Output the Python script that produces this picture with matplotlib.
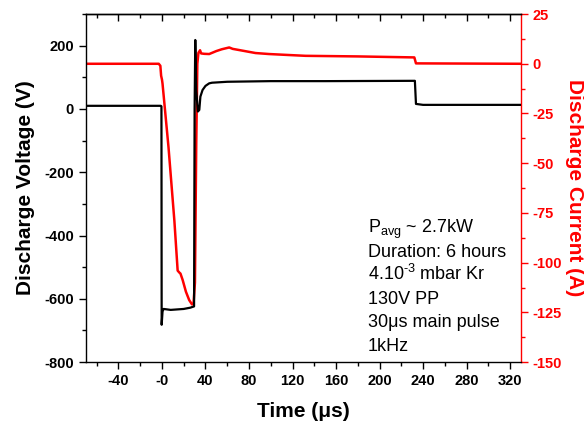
import matplotlib
matplotlib.use('Agg')
import matplotlib.pyplot as plt
from matplotlib.ticker import MultipleLocator

plt.rcParams['font.family'] = ['Liberation Sans', 'DejaVu Sans']
plt.rcParams['mathtext.fontset'] = 'custom'
plt.rcParams['mathtext.rm'] = 'Liberation Sans'
plt.rcParams['mathtext.it'] = 'Liberation Sans:italic'
plt.rcParams['mathtext.bf'] = 'Liberation Sans:bold'
plt.rcParams['axes.unicode_minus'] = False

# discharge voltage trace (black)
time_v = [-70, -1, -0.5, -0.3, 0.5, 1.5, 8, 20, 26, 29.5, 30.0, 30.6, 31.5, 33.0,
          34.3, 35.3, 37.3, 40, 43.4, 46, 60, 100, 150, 232.5, 233.5, 240, 330]
volt = [10, 10, 8, -682, -640, -632, -635, -632, -628, -624, 0, 218, 60, -8,
        -3, 39, 60, 73, 81, 83, 86, 88, 88, 89, 16, 13, 13]

# discharge current trace (red)
time_i = [-70, -3, -1.5, -0.8, 0, 0.5, 6, 11.4, 14.4, 16, 17, 19, 22, 25, 27.6,
          29, 30.3, 31.5, 32.5, 33.5, 35, 36, 39, 43.4, 50, 55, 61.8, 65, 74,
          86, 98.4, 116.8, 132, 180, 232, 233.5, 330]
curr = [0, 0, -1, -6, -8, -10, -42, -79, -104, -105, -105.5, -108.7, -114.6,
        -118.8, -121, -120.5, -110, -40, 0, 5.5, 6.8, 5.2, 5.0, 4.9, 6.4, 7.3,
        8.2, 7.5, 6.6, 5.4, 4.9, 4.4, 4.0, 3.7, 3.2, 0.2, 0]

x_ticks = [-40, 0, 40, 80, 120, 160, 200, 240, 280, 320]
x_tick_labels = ['-40', '-0', '40', '80', '120', '160', '200', '240', '280', '320']
v_ticks = [-800, -600, -400, -200, 0, 200]
i_ticks = [-150, -125, -100, -75, -50, -25, 0, 25]

info_lines = [r'P$_{\mathrm{avg}}$ ~ 2.7kW', 'Duration: 6 hours',
              r'4.10$^{\text{-3}}$ mbar Kr', '130V PP',
              '30\u03bcs main pulse', '1kHz']

fig, ax = plt.subplots(figsize=(5.84, 4.26), dpi=100)
fig.subplots_adjust(left=0.147, right=0.892, top=0.967, bottom=0.150)
ax2 = ax.twinx()
# keep the voltage trace on top of the current trace
ax.set_zorder(ax2.get_zorder() + 1)
ax.patch.set_visible(False)

ax2.plot(time_i, curr, color='#ff0000', lw=1.8)
ax.plot(time_v, volt, color='black', lw=1.6)

ax.set_xlim(-70, 330)
ax.set_ylim(-800, 300)
ax2.set_ylim(-150, 25)

ax.set_xticks(x_ticks)
ax.set_xticklabels(x_tick_labels)
ax.xaxis.set_minor_locator(MultipleLocator(20))
ax.set_yticks(v_ticks)
ax.yaxis.set_minor_locator(MultipleLocator(100))
ax2.set_yticks(i_ticks)
ax2.yaxis.set_minor_locator(MultipleLocator(12.5))

ax.tick_params(which='major', direction='out', length=5, width=1, labelsize=10.5)
ax.tick_params(which='minor', direction='out', length=3, width=1)
for lab in ax.get_xticklabels() + ax.get_yticklabels():
    lab.set_fontweight('bold')

top = ax.secondary_xaxis('top')
top.set_xticks(x_ticks)
top.xaxis.set_minor_locator(MultipleLocator(20))
top.tick_params(which='major', direction='in', length=5, width=1, labeltop=False)
top.tick_params(which='minor', direction='in', length=3, width=1)

ax.spines['right'].set_visible(False)
for s in ['left', 'top', 'bottom']:
    ax.spines[s].set_linewidth(1)
    ax2.spines[s].set_visible(False)
top.spines['top'].set_linewidth(1)
ax2.spines['right'].set_color('#ff0000')
ax2.spines['right'].set_linewidth(1)
ax2.tick_params(which='major', direction='out', length=5, width=1, colors='#ff0000', labelsize=10.5)
ax2.tick_params(which='minor', direction='out', length=3, width=1, colors='#ff0000')
for lab in ax2.get_yticklabels():
    lab.set_fontweight('bold')

ax.set_xlabel('Time (\u03bcs)', fontsize=15, fontweight='bold', labelpad=10)
ax.set_ylabel('Discharge Voltage (V)', fontsize=15, fontweight='bold', labelpad=7)
ax2.set_ylabel('Discharge Current (A)', fontsize=15, fontweight='bold',
               color='#ff0000', rotation=270, labelpad=16)

for k, line in enumerate(info_lines):
    ax.text(0.648, 0.371 - k * 0.0676, line, transform=ax.transAxes,
            fontsize=13, va='baseline', ha='left')

fig.savefig('out.png', dpi=100)
